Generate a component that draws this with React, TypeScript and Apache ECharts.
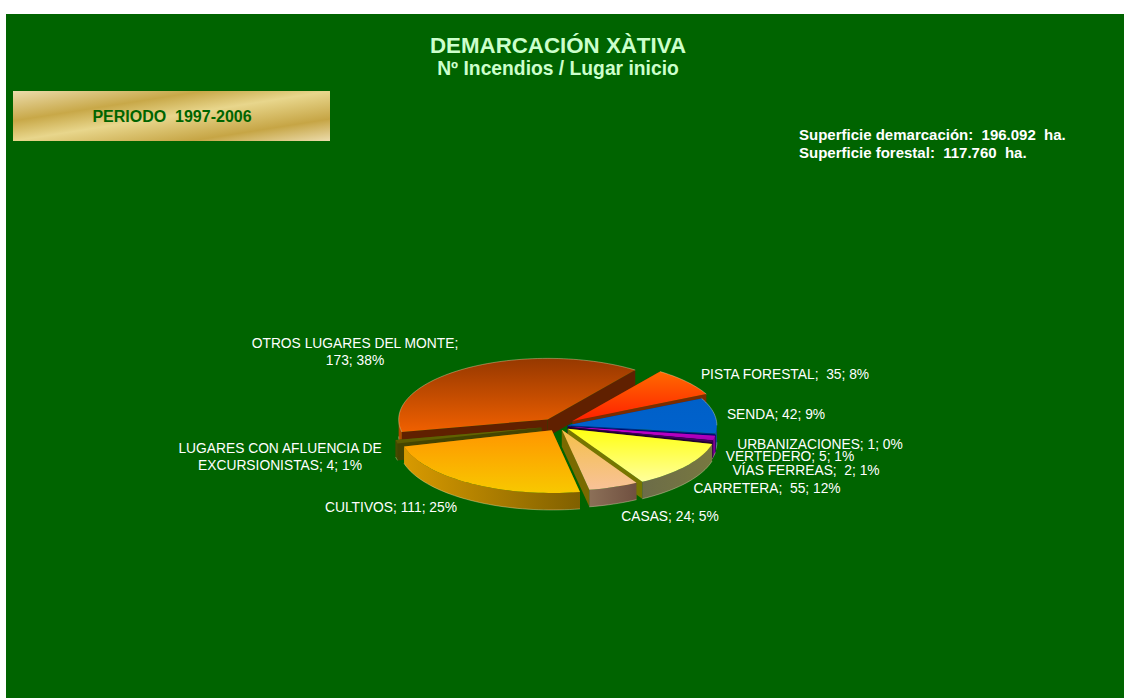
import React, { useEffect, useRef } from "react";
import * as echarts from "echarts";

const W = 1124;
const H = 698;

// --- data, in pie order (clockwise, starting with OTROS' trailing neighbour)
const categories = [
  "PISTA FORESTAL",
  "SENDA",
  "URBANIZACIONES",
  "VERTEDERO",
  "VÍAS FERREAS",
  "CARRETERA",
  "CASAS",
  "CULTIVOS",
  "LUGARES CON AFLUENCIA DE EXCURSIONISTAS",
  "OTROS LUGARES DEL MONTE",
];
const values = [35, 42, 1, 5, 2, 55, 24, 111, 4, 173];
const percents = [8, 9, 0, 1, 1, 12, 5, 25, 1, 38];

// --- pseudo-3D geometry and styling
const CX = 558;
const CY = 426;
const TILT = 0.41;
const DEPTH = 17;
const START_DEG = 36;
const radii = [149, 149, 149, 149, 149, 149, 149, 153, 149, 149];
const explode = [19, 10, 10, 10, 10, 12, 10, 12, 17, 19];
const paintOrder = [9, 0, 1, 2, 3, 4, 8, 5, 6, 7];
const topColors = [
  ["#ff6a00", "#ff2000"],
  ["#0060c8", "#0062cc"],
  ["#000080", "#000080"],
  ["#d000d8", "#a000b0"],
  ["#400060", "#400060"],
  ["#ffff10", "#ffff9c"],
  ["#f4c048", "#f8c298"],
  ["#ff9600", "#f8c800"],
  ["#6a6a00", "#5a5a00"],
  ["#963800", "#f06000"],
];
const wallColors = ["#7a2c00", "#002a80", "#000050", "#60006a", "#200030", "#767600", "#7a6a00", "#7a5a00", "#444400", "#602000"];
const rimColors = [
  ["#9a4a20", "#9a4a20"],
  ["#3060c0", "#103090"],
  ["#000060", "#000060"],
  ["#800090", "#800090"],
  ["#300050", "#300050"],
  ["#6c6c48", "#787840"],
  ["#8c7058", "#705040"],
  ["#d89a00", "#806000"],
  ["#4a4a00", "#4a4a00"],
  ["#b04800", "#b04800"],
];
const labelLines = [
  ["PISTA FORESTAL;  35; 8%"],
  ["SENDA; 42; 9%"],
  ["URBANIZACIONES; 1; 0%"],
  ["VERTEDERO; 5; 1%"],
  ["VÍAS FERREAS;  2; 1%"],
  ["CARRETERA;  55; 12%"],
  ["CASAS; 24; 5%"],
  ["CULTIVOS; 111; 25%"],
  ["LUGARES CON AFLUENCIA DE", "EXCURSIONISTAS; 4; 1%"],
  ["OTROS LUGARES DEL MONTE;", "173; 38%"],
];
const labelAnchors = [
  [785, 374],
  [776, 414],
  [820, 444],
  [790, 456],
  [806, 470],
  [767, 488],
  [670, 516],
  [391, 507],
  [280, 456.5],
  [355, 352],
];

const total = values.reduce((a, b) => a + b, 0);
const rad = (d: number) => (d * Math.PI) / 180;

// the original's perspective pushes the front boundaries a little clockwise
function warp(a: number) {
  if (a <= 90 || a >= 255) return a;
  return a + 2.8 * Math.sin(rad(((a - 90) * 180) / 165));
}

function sliceAngles(i: number) {
  const before = values.slice(0, i).reduce((a, b) => a + b, 0);
  return [START_DEG + (before / total) * 360, START_DEG + ((before + values[i]) / total) * 360];
}

function vGrad(c: string[]) {
  return new echarts.graphic.LinearGradient(0, 0, 0, 1, [
    { offset: 0, color: c[0] },
    { offset: 1, color: c[1] },
  ]);
}
function hGrad(c: string[]) {
  return new echarts.graphic.LinearGradient(0, 0, 1, 0, [
    { offset: 0, color: c[0] },
    { offset: 1, color: c[1] },
  ]);
}

const HALO = "rgba(255,240,205,0.35)";

function renderSlice(params: any) {
  const i = paintOrder[params.dataIndex];
  const [a0, a1] = sliceAngles(i);
  const mid = rad((a0 + a1) / 2);
  const ax = CX + explode[i] * Math.sin(mid);
  const ay = CY - explode[i] * Math.cos(mid) * TILT;
  const R = radii[i];
  const pt = (deg: number, dz = 0): number[] => {
    const w = warp(deg);
    return [ax + R * Math.sin(rad(w)), ay - R * TILT * Math.cos(rad(w)) + dz];
  };
  const arc = (from: number, to: number, dz = 0) => {
    const n = Math.max(2, Math.ceil((to - from) / 2));
    const out: number[][] = [];
    for (let k = 0; k <= n; k++) out.push(pt(from + ((to - from) * k) / n, dz));
    return out;
  };
  const children: any[] = [];
  const apexLow = [ax, ay + DEPTH];
  [a0, a1].forEach((deg) => {
    children.push({
      type: "polygon",
      shape: { points: [[ax, ay], pt(deg), pt(deg, DEPTH), apexLow] },
      style: { fill: wallColors[i] },
    });
  });
  // front-facing part of the rim: 90..270 degrees, also one full turn later
  [0, 360].forEach((shift) => {
    const from = Math.max(a0, 90 + shift);
    const to = Math.min(a1, 270 + shift);
    if (to > from) {
      children.push({
        type: "polygon",
        shape: { points: [...arc(from, to), ...arc(from, to, DEPTH).reverse()] },
        style: { fill: hGrad([rimColors[i][0], rimColors[i][1]]) },
      });
      children.push({
        type: "polyline",
        shape: { points: arc(from, to, DEPTH) },
        style: { fill: "none", stroke: HALO, lineWidth: 1 },
      });
    }
  });
  children.push({
    type: "polygon",
    shape: { points: [[ax, ay], ...arc(a0, a1)] },
    style: { fill: vGrad(topColors[i]) },
  });
  if (a0 < 90 || a1 > 270) {
    children.push({
      type: "polyline",
      shape: { points: arc(a0, a1 > 270 ? Math.max(a1, 270) : Math.min(a1, 90)) },
      style: { fill: "none", stroke: HALO, lineWidth: 1 },
    });
  }
  labelLines[i].forEach((line, k) => {
    children.push({
      type: "text",
      z2: 100,
      style: {
        text: line,
        x: labelAnchors[i][0],
        y: labelAnchors[i][1] + (k - (labelLines[i].length - 1) / 2) * 17,
        fill: "#ffffff",
        font: "13.8px 'Liberation Sans', Arial, sans-serif",
        align: "center",
        verticalAlign: "middle",
      },
    });
  });
  return { type: "group", children };
}

export default function App() {
  const ref = useRef<HTMLDivElement>(null);
  useEffect(() => {
    const chart = echarts.init(ref.current!, null, { renderer: "svg", width: W, height: H });
    chart.setOption({
      animation: false,
      backgroundColor: "#ffffff",
      graphic: [
        { type: "rect", z: -10, shape: { x: 6, y: 14, width: W - 6, height: H - 14 }, style: { fill: "#006400" } },
        {
          type: "rect",
          z: -5,
          shape: { x: 13, y: 91, width: 317, height: 50 },
          style: {
            fill: new echarts.graphic.LinearGradient(0, 0, 1, 1, [
              { offset: 0, color: "#ecdcac" },
              { offset: 0.3, color: "#c8a848" },
              { offset: 0.5, color: "#e8d68c" },
              { offset: 0.78, color: "#c6a545" },
              { offset: 1, color: "#ecdcac" },
            ]),
          },
        },
        {
          type: "text",
          z: 5,
          style: {
            text: "PERIODO  1997-2006",
            x: 172,
            y: 116,
            fill: "#006400",
            font: "bold 16px 'Liberation Sans', Arial, sans-serif",
            align: "center",
            verticalAlign: "middle",
          },
        },
        {
          type: "text",
          z: 5,
          style: {
            text: "Superficie demarcación:  196.092  ha.",
            x: 799,
            y: 134,
            fill: "#ffffff",
            font: "bold 15px 'Liberation Sans', Arial, sans-serif",
            verticalAlign: "middle",
          },
        },
        {
          type: "text",
          z: 5,
          style: {
            text: "Superficie forestal:  117.760  ha.",
            x: 799,
            y: 152,
            fill: "#ffffff",
            font: "bold 15px 'Liberation Sans', Arial, sans-serif",
            verticalAlign: "middle",
          },
        },
        {
          type: "text",
          z: 5,
          style: {
            text: "DEMARCACIÓN XÀTIVA",
            x: 558,
            y: 45,
            fill: "#ccffcc",
            font: "bold 22.3px 'Liberation Sans', Arial, sans-serif",
            align: "center",
            verticalAlign: "middle",
          },
        },
        {
          type: "text",
          z: 5,
          style: {
            text: "Nº Incendios / Lugar inicio",
            x: 558,
            y: 68,
            fill: "#ccffcc",
            font: "bold 19.3px 'Liberation Sans', Arial, sans-serif",
            align: "center",
            verticalAlign: "middle",
          },
        },
      ],
      series: [
        {
          type: "custom",
          coordinateSystem: "none",
          silent: true,
          renderItem: renderSlice,
          data: paintOrder.map((i) => ({ name: categories[i], value: [values[i], percents[i]] })),
        },
      ],
    });
    return () => chart.dispose();
  }, []);
  return <div ref={ref} style={{ position: "fixed", left: 0, top: 0, width: W, height: H }} />;
}
